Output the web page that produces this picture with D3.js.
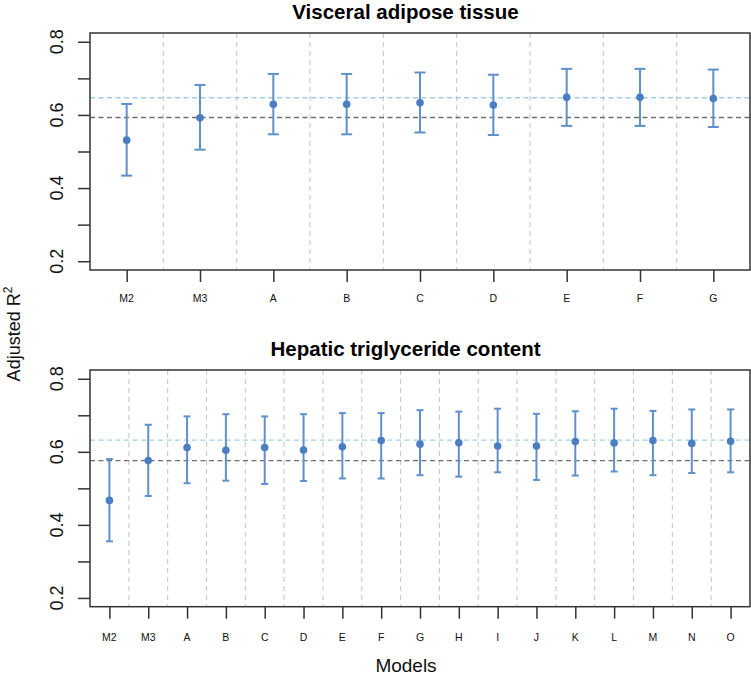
<!DOCTYPE html>
<html>
<head>
<meta charset="utf-8">
<script src="https://cdn.jsdelivr.net/npm/d3@7"></script>
<style>
  body { margin: 0; background: #fff; }
  svg { display: block; font-family: "Liberation Sans", Arial, Helvetica, sans-serif; }
</style>
</head>
<body>
<svg id="chart" width="751" height="677"></svg>
<script>
// ---- Data ----
const visceralModels = ["M2", "M3", "A", "B", "C", "D", "E", "F", "G"];
const visceralEst    = [0.531, 0.592, 0.629, 0.629, 0.633, 0.627, 0.648, 0.648, 0.645];
const visceralLower  = [0.434, 0.505, 0.547, 0.547, 0.552, 0.545, 0.570, 0.570, 0.567];
const visceralUpper  = [0.630, 0.682, 0.712, 0.712, 0.716, 0.710, 0.726, 0.726, 0.724];
const visceralRefBlue = 0.647;
const visceralRefGray = 0.593;

const hepaticModels = ["M2", "M3", "A", "B", "C", "D", "E", "F", "G", "H", "I", "J", "K", "L", "M", "N", "O"];
const hepaticEst    = [0.467, 0.576, 0.612, 0.604, 0.612, 0.605, 0.614, 0.631, 0.621, 0.625, 0.616, 0.616, 0.628, 0.624, 0.631, 0.623, 0.629];
const hepaticLower  = [0.355, 0.479, 0.514, 0.521, 0.512, 0.520, 0.527, 0.527, 0.536, 0.532, 0.544, 0.523, 0.535, 0.546, 0.536, 0.542, 0.544];
const hepaticUpper  = [0.580, 0.674, 0.697, 0.703, 0.697, 0.703, 0.706, 0.706, 0.714, 0.710, 0.718, 0.704, 0.711, 0.718, 0.712, 0.716, 0.716];
const hepaticRefBlue = 0.632;
const hepaticRefGray = 0.576;

const yTicks = [0.2, 0.3, 0.4, 0.5, 0.6, 0.7, 0.8];
const yTickLabels = ["0.2", "", "0.4", "", "0.6", "", "0.8"];
const titles = ["Visceral adipose tissue", "Hepatic triglyceride content"];

// ---- Drawing ----
const svg = d3.select("#chart");
const left = 90, right = 750;
const yDomain = [0.176, 0.824];

const panels = [
  { title: titles[0], models: visceralModels, est: visceralEst, lo: visceralLower, hi: visceralUpper,
    refBlue: visceralRefBlue, refGray: visceralRefGray, top: 33, bottom: 270, titleY: 19, labY: 302, cap: 5.5 },
  { title: titles[1], models: hepaticModels, est: hepaticEst, lo: hepaticLower, hi: hepaticUpper,
    refBlue: hepaticRefBlue, refGray: hepaticRefGray, top: 370, bottom: 606.7, titleY: 356, labY: 640.5, cap: 3.5 }
];

const blue = "#4A7EC0";
const barBlue = "#6090CA";

panels.forEach(p => {
  const x = d3.scalePoint().domain(p.models).range([left, right]).padding(0.5);
  const y = d3.scaleLinear().domain(yDomain).range([p.bottom, p.top]);
  const step = x.step();
  const g = svg.append("g");

  // vertical separators
  g.selectAll("line.sep").data(p.models.slice(0, -1)).join("line")
    .attr("x1", d => x(d) + step / 2).attr("x2", d => x(d) + step / 2)
    .attr("y1", p.top).attr("y2", p.bottom)
    .attr("stroke", "#c8c8c8").attr("stroke-width", 1.1).attr("stroke-dasharray", "5,4");

  // reference lines
  g.append("line").attr("x1", left).attr("x2", right)
    .attr("y1", y(p.refBlue)).attr("y2", y(p.refBlue))
    .attr("stroke", "#9FCFE6").attr("stroke-width", 1.3).attr("stroke-dasharray", "5,3.5");
  g.append("line").attr("x1", left).attr("x2", right)
    .attr("y1", y(p.refGray)).attr("y2", y(p.refGray))
    .attr("stroke", "#6e6e6e").attr("stroke-width", 1.3).attr("stroke-dasharray", "5,3.5");

  // error bars
  const idx = d3.range(p.models.length);
  const eb = g.selectAll("g.eb").data(idx).join("g");
  eb.append("line").attr("x1", i => x(p.models[i])).attr("x2", i => x(p.models[i]))
    .attr("y1", i => y(p.lo[i])).attr("y2", i => y(p.hi[i]))
    .attr("stroke", barBlue).attr("stroke-width", 2);
  eb.append("line").attr("x1", i => x(p.models[i]) - p.cap).attr("x2", i => x(p.models[i]) + p.cap)
    .attr("y1", i => y(p.hi[i])).attr("y2", i => y(p.hi[i]))
    .attr("stroke", barBlue).attr("stroke-width", 2);
  eb.append("line").attr("x1", i => x(p.models[i]) - p.cap).attr("x2", i => x(p.models[i]) + p.cap)
    .attr("y1", i => y(p.lo[i])).attr("y2", i => y(p.lo[i]))
    .attr("stroke", barBlue).attr("stroke-width", 2);
  eb.append("circle").attr("cx", i => x(p.models[i])).attr("cy", i => y(p.est[i]))
    .attr("r", 3.8).attr("fill", blue);

  // box
  g.append("rect").attr("x", left).attr("y", p.top).attr("width", right - left).attr("height", p.bottom - p.top)
    .attr("fill", "none").attr("stroke", "#333").attr("stroke-width", 1.5);

  // y axis
  const yAxis = d3.axisLeft(y).tickValues(yTicks).tickSize(12).tickFormat("");
  const ya = g.append("g").attr("transform", `translate(${left},0)`).call(yAxis);
  ya.select(".domain").remove();
  ya.selectAll(".tick line").attr("stroke", "#333").attr("stroke-width", 1.5);
  g.selectAll("text.ylab").data(yTicks.map((v, i) => [v, yTickLabels[i]]).filter(d => d[1] !== "")).join("text")
    .attr("transform", d => `translate(63,${y(d[0])}) rotate(-90)`)
    .attr("text-anchor", "middle").attr("font-size", 18).attr("fill", "#111")
    .text(d => d[1]);

  // x axis
  const xAxis = d3.axisBottom(x).tickSize(12).tickFormat("");
  const xa = g.append("g").attr("transform", `translate(0,${p.bottom})`).call(xAxis);
  xa.select(".domain").remove();
  xa.selectAll(".tick line").attr("stroke", "#333").attr("stroke-width", 1.5);
  g.selectAll("text.xlab").data(p.models).join("text")
    .attr("x", d => x(d)).attr("y", p.labY)
    .attr("text-anchor", "middle").attr("font-size", 10.5).attr("fill", "#111")
    .text(d => d);

  // title
  g.append("text").attr("x", 405.5).attr("y", p.titleY).attr("text-anchor", "middle")
    .attr("font-size", 20.5).attr("font-weight", "bold").attr("fill", "#000").text(p.title);
});

// axis titles
const yl = svg.append("text").attr("transform", "translate(20,334) rotate(-90)")
  .attr("text-anchor", "middle").attr("font-size", 18).attr("fill", "#111");
yl.append("tspan").text("Adjusted R");
yl.append("tspan").attr("font-size", 12).attr("dy", -8).text("2");

svg.append("text").attr("x", 406).attr("y", 671.5).attr("text-anchor", "middle")
  .attr("font-size", 19).attr("fill", "#111").text("Models");
</script>
</body>
</html>
